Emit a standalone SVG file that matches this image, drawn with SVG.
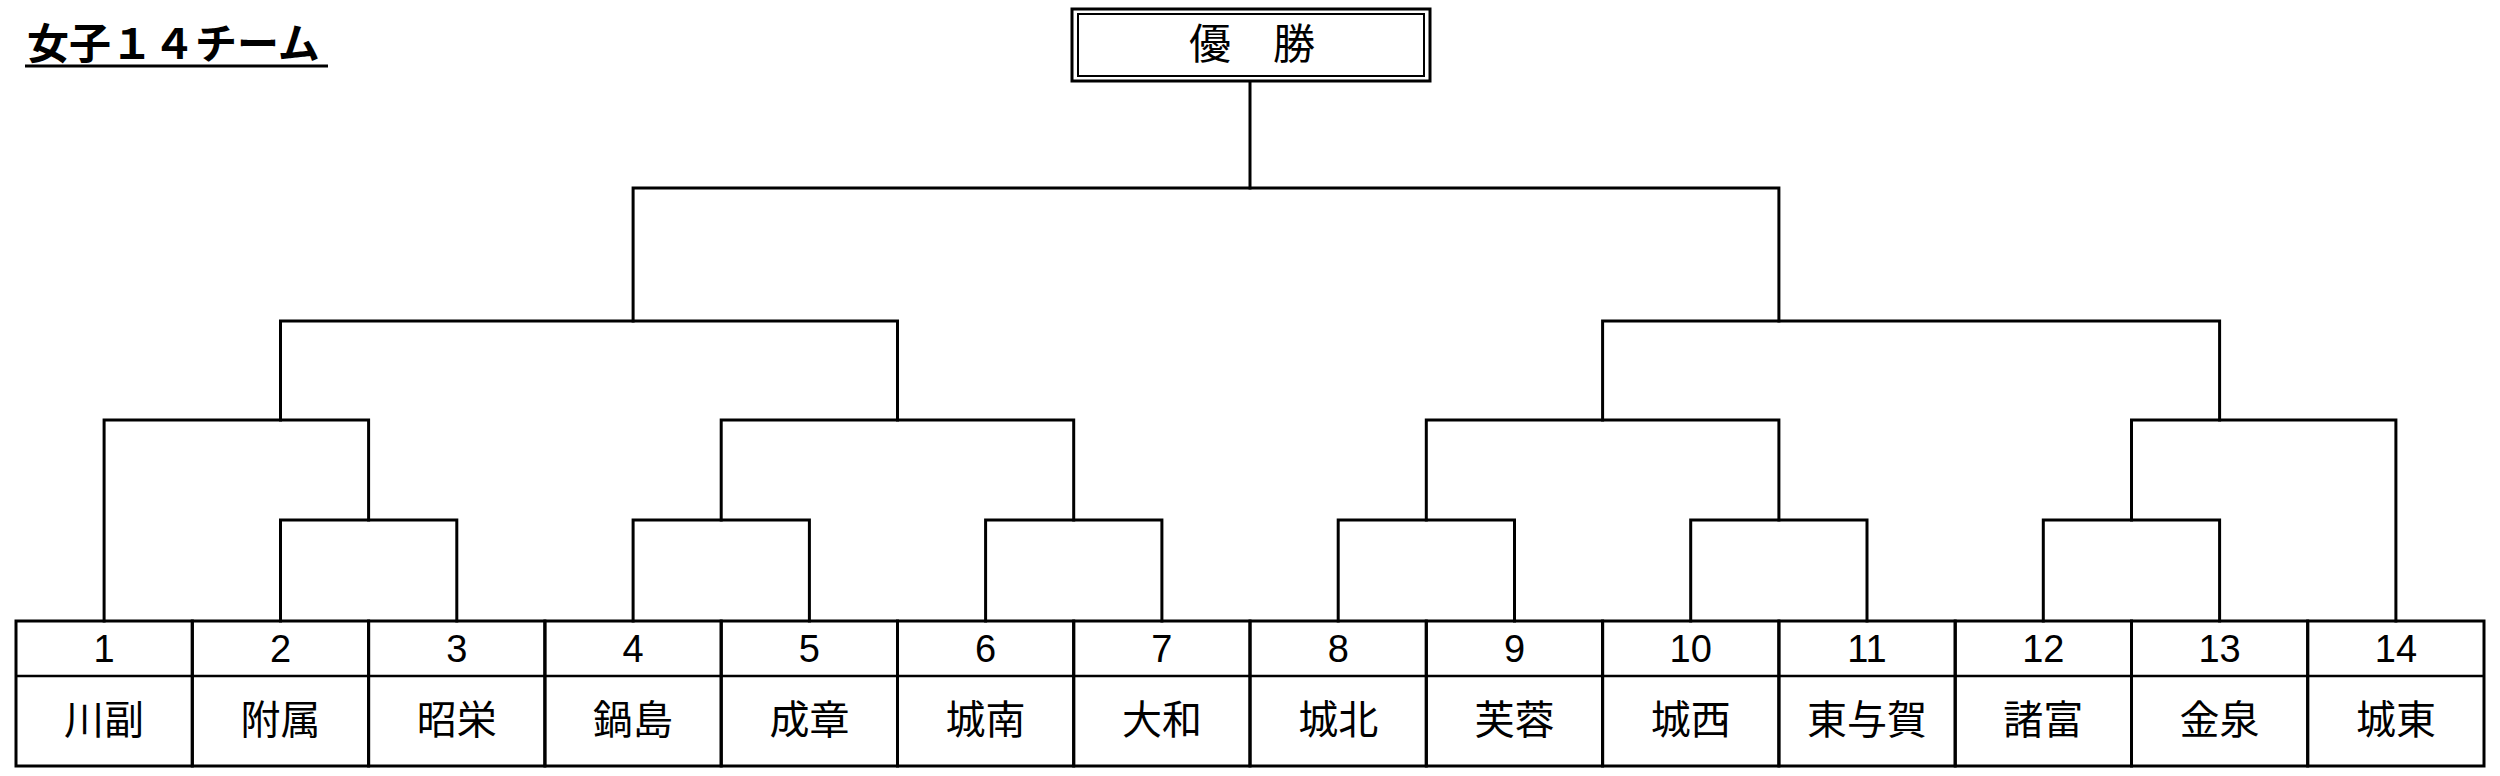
<svg xmlns="http://www.w3.org/2000/svg" width="2500" height="776" viewBox="0 0 2500 776">
<style>
.ln{fill:none;stroke:#000;stroke-width:3;stroke-linecap:square}
.cell{fill:none;stroke:#000;stroke-width:3}
.mid{stroke:#000;stroke-width:2.5}
.num{font-family:"Liberation Sans",Arial,sans-serif;font-size:38px;text-anchor:middle;fill:#000}
.name{font-family:"Noto Sans CJK JP","Noto Sans CJK SC",sans-serif;font-size:40px;text-anchor:middle;fill:#000}
.title{font-family:"Noto Sans CJK JP","Noto Sans CJK SC",sans-serif;font-size:42px;font-weight:bold;fill:#000}
.champ{font-family:"Noto Sans CJK JP","Noto Sans CJK SC",sans-serif;font-size:42px;text-anchor:middle;fill:#000}
</style>
<rect width="2500" height="776" fill="#fff"/>
<g id="title">
<text class="title" x="27" y="59">女子１４チーム</text>
<line x1="25" y1="66" x2="328" y2="66" stroke="#000" stroke-width="3"/>
</g>
<g id="champion">
<rect x="1072" y="9" width="358" height="72" fill="#fff" stroke="#000" stroke-width="3"/>
<rect x="1078" y="14" width="346" height="62" fill="none" stroke="#000" stroke-width="2"/>
<text class="champ" x="1252" y="59">優　勝</text>
</g>
<g id="connectors">
<path class="ln" d="M280.5 621V520H456.8V621"/>
<path class="ln" d="M633.1 621V520H809.4V621"/>
<path class="ln" d="M985.6 621V520H1161.9V621"/>
<path class="ln" d="M1338.2 621V520H1514.5V621"/>
<path class="ln" d="M1690.7 621V520H1867V621"/>
<path class="ln" d="M2043.3 621V520H2219.6V621"/>
<path class="ln" d="M104.1 621V420H368.6V520"/>
<path class="ln" d="M721.2 520V420H1073.7V520"/>
<path class="ln" d="M1426.3 520V420H1778.9V520"/>
<path class="ln" d="M2131.5 520V420H2395.9V621"/>
<path class="ln" d="M280.5 420V321H897.5V420"/>
<path class="ln" d="M1602.6 420V321H2219.6V420"/>
<path class="ln" d="M633.1 321V188H1778.9V321"/>
<path class="ln" d="M1250 188V82"/>
</g>
<g id="team1"><rect class="cell" x="16" y="621" width="176.3" height="145"/><line class="mid" x1="16" y1="676" x2="192.3" y2="676"/><text class="num" x="104.1" y="662">1</text><text class="name" x="104.1" y="734">川副</text></g>
<g id="team2"><rect class="cell" x="192.3" y="621" width="176.3" height="145"/><line class="mid" x1="192.3" y1="676" x2="368.6" y2="676"/><text class="num" x="280.5" y="662">2</text><text class="name" x="280.5" y="734">附属</text></g>
<g id="team3"><rect class="cell" x="368.6" y="621" width="176.3" height="145"/><line class="mid" x1="368.6" y1="676" x2="544.9" y2="676"/><text class="num" x="456.8" y="662">3</text><text class="name" x="456.8" y="734">昭栄</text></g>
<g id="team4"><rect class="cell" x="544.9" y="621" width="176.3" height="145"/><line class="mid" x1="544.9" y1="676" x2="721.2" y2="676"/><text class="num" x="633.1" y="662">4</text><text class="name" x="633.1" y="734">鍋島</text></g>
<g id="team5"><rect class="cell" x="721.2" y="621" width="176.3" height="145"/><line class="mid" x1="721.2" y1="676" x2="897.5" y2="676"/><text class="num" x="809.4" y="662">5</text><text class="name" x="809.4" y="734">成章</text></g>
<g id="team6"><rect class="cell" x="897.5" y="621" width="176.2" height="145"/><line class="mid" x1="897.5" y1="676" x2="1073.7" y2="676"/><text class="num" x="985.6" y="662">6</text><text class="name" x="985.6" y="734">城南</text></g>
<g id="team7"><rect class="cell" x="1073.7" y="621" width="176.3" height="145"/><line class="mid" x1="1073.7" y1="676" x2="1250" y2="676"/><text class="num" x="1161.9" y="662">7</text><text class="name" x="1161.9" y="734">大和</text></g>
<g id="team8"><rect class="cell" x="1250" y="621" width="176.3" height="145"/><line class="mid" x1="1250" y1="676" x2="1426.3" y2="676"/><text class="num" x="1338.2" y="662">8</text><text class="name" x="1338.2" y="734">城北</text></g>
<g id="team9"><rect class="cell" x="1426.3" y="621" width="176.3" height="145"/><line class="mid" x1="1426.3" y1="676" x2="1602.6" y2="676"/><text class="num" x="1514.5" y="662">9</text><text class="name" x="1514.5" y="734">芙蓉</text></g>
<g id="team10"><rect class="cell" x="1602.6" y="621" width="176.3" height="145"/><line class="mid" x1="1602.6" y1="676" x2="1778.9" y2="676"/><text class="num" x="1690.7" y="662">10</text><text class="name" x="1690.7" y="734">城西</text></g>
<g id="team11"><rect class="cell" x="1778.9" y="621" width="176.3" height="145"/><line class="mid" x1="1778.9" y1="676" x2="1955.2" y2="676"/><text class="num" x="1867" y="662">11</text><text class="name" x="1867" y="734">東与賀</text></g>
<g id="team12"><rect class="cell" x="1955.2" y="621" width="176.3" height="145"/><line class="mid" x1="1955.2" y1="676" x2="2131.5" y2="676"/><text class="num" x="2043.3" y="662">12</text><text class="name" x="2043.3" y="734">諸富</text></g>
<g id="team13"><rect class="cell" x="2131.5" y="621" width="176.2" height="145"/><line class="mid" x1="2131.5" y1="676" x2="2307.7" y2="676"/><text class="num" x="2219.6" y="662">13</text><text class="name" x="2219.6" y="734">金泉</text></g>
<g id="team14"><rect class="cell" x="2307.7" y="621" width="176.3" height="145"/><line class="mid" x1="2307.7" y1="676" x2="2484" y2="676"/><text class="num" x="2395.9" y="662">14</text><text class="name" x="2395.9" y="734">城東</text></g>
</svg>
